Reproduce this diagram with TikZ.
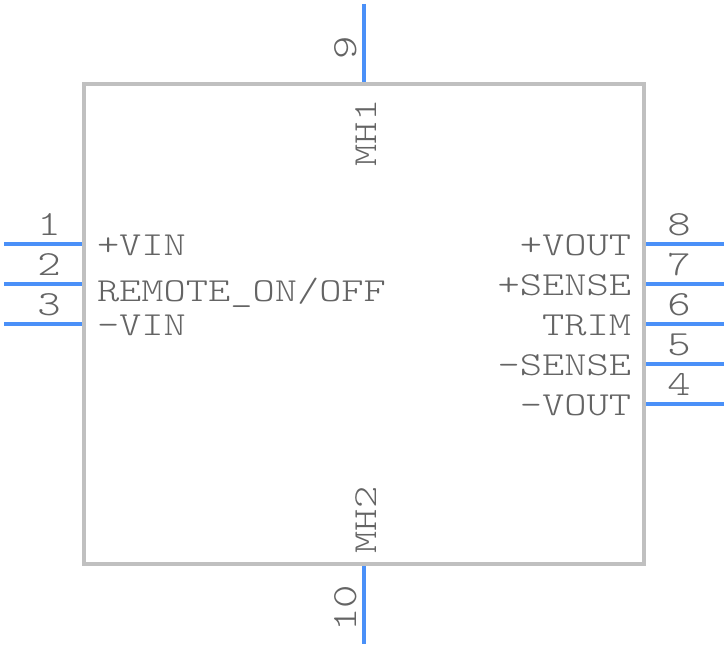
\documentclass[tikz,border=0pt]{standalone}
\usepackage{fontspec}
\setmonofont[FakeStretch=1.26]{Latin Modern Mono Light}
\definecolor{pinblue}{RGB}{74,144,248}
\definecolor{boxgrey}{RGB}{192,192,192}
\definecolor{txtgrey}{RGB}{100,100,100}
\tikzset{
  x=0.75pt,y=-0.75pt,
  pinline/.style={draw=pinblue,line width=3pt},
  bodybox/.style={draw=boxgrey,line width=3pt},
  lbl/.style={inner sep=0pt,outer sep=0pt,text=txtgrey,font=\ttfamily\fontsize{25.2}{25.2}\selectfont},
  leftlbl/.style={lbl,anchor=base west},
  rightlbl/.style={lbl,anchor=base east},
  numlbl/.style={lbl,anchor=base,font=\ttfamily\fontsize{26.5}{26.5}\selectfont},
  vlbl/.style={lbl,rotate=90,anchor=base},
  vnumlbl/.style={vlbl,font=\ttfamily\fontsize{26.5}{26.5}\selectfont},
}
\begin{document}
\begin{tikzpicture}
\useasboundingbox (0,0) rectangle (728,648);
\draw[bodybox] (84,84) rectangle (644,564);
\foreach \n/\y in {p1/244,p2/284,p3/324}{
  \coordinate (\n a) at (4,\y); \coordinate (\n b) at (82,\y);
  \draw[pinline] (\n a) -- (\n b);
}
\foreach \n/\y in {p8/244,p7/284,p6/324,p5/364,p4/404}{
  \coordinate (\n a) at (646,\y); \coordinate (\n b) at (724,\y);
  \draw[pinline] (\n a) -- (\n b);
}
\coordinate (p9a) at (364,4); \coordinate (p9b) at (364,82);
\draw[pinline] (p9a) -- (p9b);
\coordinate (p10a) at (364,566); \coordinate (p10b) at (364,644);
\draw[pinline] (p10a) -- (p10b);
\node[numlbl] (n1) at (49,236) {1};
\node[numlbl] (n2) at (49,276) {2};
\node[numlbl] (n3) at (49,316) {3};
\node[numlbl] (n8) at (679,236) {8};
\node[numlbl] (n7) at (679,276) {7};
\node[numlbl] (n6) at (679,316) {6};
\node[numlbl] (n5) at (679,356) {5};
\node[numlbl] (n4) at (679,396) {4};
\node[vnumlbl] (n9) at (356,48) {9};
\node[vnumlbl] (n10) at (356,608) {10};
\node[vlbl] (mh1) at (376,133) {MH1};
\node[vlbl] (mh2) at (376,520) {MH2};
\node[leftlbl] (vinp) at (97,256) {+VIN};
\node[leftlbl] (rem) at (97,302) {REMOTE\_ON/OFF};
\node[leftlbl] (vinm) at (97,336) {-VIN};
\node[rightlbl] (voutp) at (631,256) {+VOUT};
\node[rightlbl] (sensp) at (631,296) {+SENSE};
\node[rightlbl] (trim) at (631,336) {TRIM};
\node[rightlbl] (sensm) at (631,376) {-SENSE};
\node[rightlbl] (voutm) at (631,416) {-VOUT};
\end{tikzpicture}
\end{document}
